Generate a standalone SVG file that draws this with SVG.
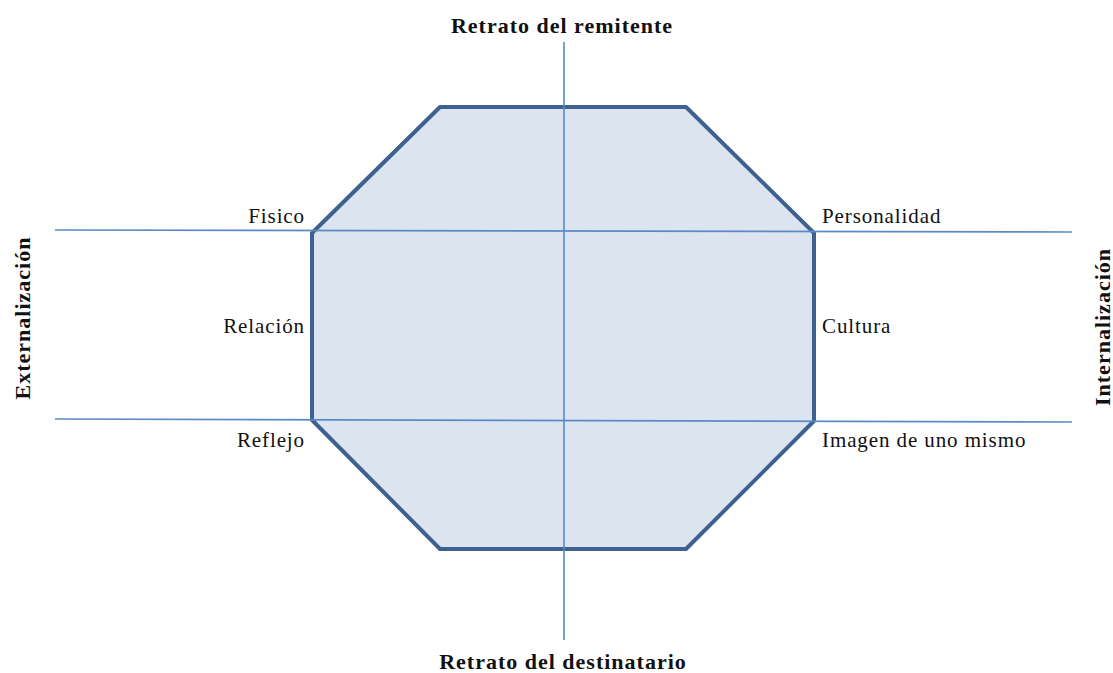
<svg xmlns="http://www.w3.org/2000/svg" width="1113" height="673" viewBox="0 0 1113 673">
<style>
.axis{stroke:#5b8ac6;stroke-width:1.6;fill:none}
.oct{fill:#dce4f0;stroke:#3f6190;stroke-width:4;stroke-linejoin:round}
.lbl{font-family:"Liberation Serif",serif;font-size:21px;letter-spacing:0.9px;fill:#111}
.ttl{font-family:"Liberation Serif",serif;font-size:22px;letter-spacing:1px;font-weight:bold;fill:#111}
</style>
<rect width="1113" height="673" fill="#fff"/>
<g id="octagon">
<polygon class="oct" points="440,107 686,107 814,233 814,421 686,549 440,549 312,420 312,233"/>
</g>
<g id="connectors">
<line class="axis" x1="564" y1="42" x2="564" y2="640"/>
<line class="axis" x1="55" y1="230" x2="1072" y2="232"/>
<line class="axis" x1="55" y1="419" x2="1072" y2="422"/>
</g>
<g id="titles">
<text class="ttl" x="562" y="33" text-anchor="middle">Retrato del remitente</text>
<text class="ttl" x="563" y="669" text-anchor="middle">Retrato del destinatario</text>
<text class="ttl" transform="translate(30,318) rotate(-90)" text-anchor="middle">Externalización</text>
<text class="ttl" transform="translate(1110,327) rotate(-90)" text-anchor="middle">Internalización</text>
</g>
<g id="labels">
<text class="lbl" x="305" y="223" text-anchor="end">Fisico</text>
<text class="lbl" x="822" y="223">Personalidad</text>
<text class="lbl" x="305" y="333" text-anchor="end">Relación</text>
<text class="lbl" x="822" y="333">Cultura</text>
<text class="lbl" x="305" y="447" text-anchor="end">Reflejo</text>
<text class="lbl" x="822" y="447">Imagen de uno mismo</text>
</g>
</svg>
